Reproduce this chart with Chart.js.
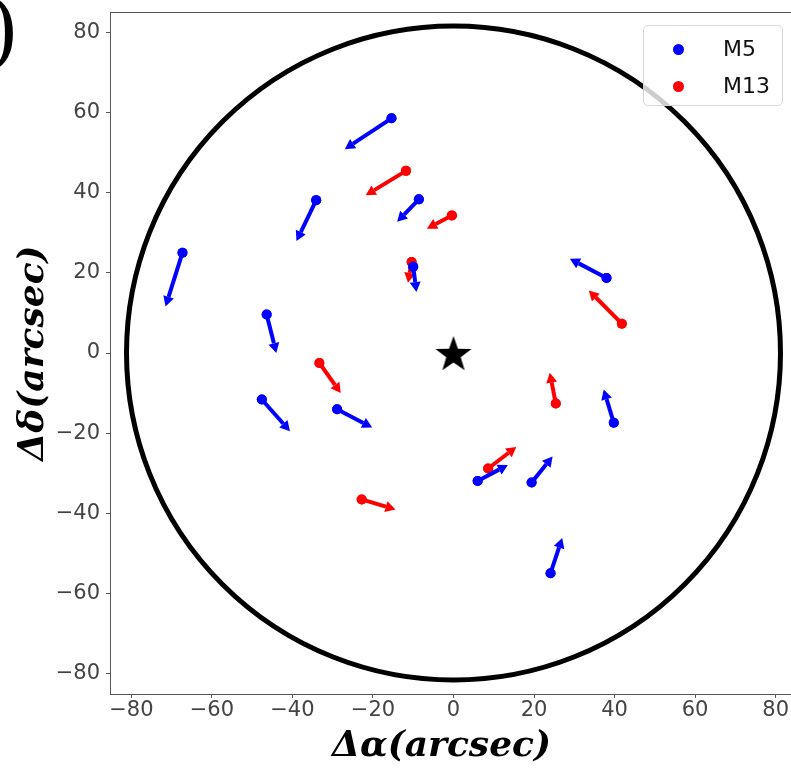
<!DOCTYPE html>
<html>
<head>
<meta charset="utf-8">
<title>M5 / M13 proper motions</title>
<script src="https://cdn.jsdelivr.net/npm/chart.js@4.4.1/dist/chart.umd.min.js"></script>
<style>
  html, body { margin: 0; padding: 0; background: #fff; overflow: hidden; }
  #wrap { position: relative; width: 800px; height: 768px; }
  #tag {
    position: absolute; left: -12px; top: -9px;
    font: 80px 'DejaVu Serif', serif; color: #000; line-height: 1;
  }
  #legend {
    position: absolute; left: 643px; top: 25px; width: 140px; height: 81px;
    box-sizing: border-box; border: 1px solid #d6d6d6; border-radius: 5px;
    background: rgba(255, 255, 255, 0.8);
    font: 22px 'DejaVu Sans', sans-serif; color: #111;
  }
  #legend .row { position: absolute; left: 0; height: 30px; line-height: 30px; }
  #legend .dot {
    position: absolute; left: 29px; top: 10px; width: 11px; height: 11px; border-radius: 50%;
  }
  #legend .txt { position: absolute; left: 79px; top: 0; white-space: nowrap; }
</style>
</head>
<body>
<div id="wrap">
  <canvas id="chart"></canvas>
  <div id="tag">)</div>
  <div id="legend"></div>
</div>
<script>
// stars: start position (arcsec) and motion vector to arrow tip
const m5X  = [-15.4, -34.1, -67.3, -46.4, -47.6, -28.9, -8.6, -10.0, 39.8, 38.0, 6.0, 19.4, 24.1];
const m5Y  = [58.5, 38.1, 25.0, 9.6, -11.6, -14.0, 38.3, 21.5, -17.4, 18.7, -31.9, -32.3, -54.9];
const m5DX = [-11.6, -4.9, -4.2, 2.4, 7.0, 8.7, -5.4, 0.8, -2.5, -9.1, 7.5, 5.2, 2.9];
const m5DY = [-7.7, -10.2, -13.4, -9.6, -7.9, -4.6, -5.6, -6.3, 8.3, 4.8, 4.0, 6.5, 8.8];

const m13X  = [-11.8, -0.4, -10.4, -33.3, -22.8, 25.4, 41.8, 8.6];
const m13Y  = [45.4, 34.3, 22.7, -2.5, -36.5, -12.6, 7.3, -28.8];
const m13DX = [-10.0, -6.2, -0.9, 5.3, 8.4, -1.5, -8.2, 7.0];
const m13DY = [-6.1, -3.3, -5.2, -7.5, -2.5, 7.7, 8.3, 5.4];

const center = [0, 0];
const ringRadius = 81.2;
const xTicks = [-80, -60, -40, -20, 0, 20, 40, 60, 80];
const yTicks = [-80, -60, -40, -20, 0, 20, 40, 60, 80];

const toPoints = (xs, ys) => xs.map((x, i) => ({ x, y: ys[i] }));
const minus = v => (v < 0 ? '\u2212' + Math.abs(v) : String(v));

// filled five point star used as the marker at the centre
function makeStar(r) {
  const c = document.createElement('canvas');
  c.width = c.height = Math.ceil(r * 2 + 2);
  const g = c.getContext('2d');
  const cx = c.width / 2, cy = c.height / 2 + r * 0.1;
  g.beginPath();
  for (let i = 0; i < 10; i++) {
    const rad = i % 2 === 0 ? r : r * 0.4;
    const a = -Math.PI / 2 + i * Math.PI / 5;
    const px = cx + rad * Math.cos(a), py = cy + rad * Math.sin(a);
    i === 0 ? g.moveTo(px, py) : g.lineTo(px, py);
  }
  g.closePath();
  g.fillStyle = '#000';
  g.fill();
  return c;
}

const ringPlugin = {
  id: 'ring',
  beforeDatasetsDraw(chart) {
    const { ctx, chartArea: a, scales: { x, y } } = chart;
    ctx.save();
    ctx.strokeStyle = '#555';
    ctx.lineWidth = 1;
    ctx.strokeRect(a.left + 0.5, a.top + 0.5, a.right - a.left, a.bottom - a.top);
    const cx = x.getPixelForValue(center[0]);
    const cy = y.getPixelForValue(center[1]);
    const r = x.getPixelForValue(ringRadius) - cx;
    ctx.beginPath();
    ctx.arc(cx, cy, r, 0, Math.PI * 2);
    ctx.strokeStyle = '#000';
    ctx.lineWidth = 5;
    ctx.stroke();
    ctx.restore();
  }
};

const arrowPlugin = {
  id: 'arrows',
  afterDatasetDraw(chart, args) {
    const ds = chart.data.datasets[args.index];
    if (!ds.vectors) return;
    const { ctx, scales: { x, y } } = chart;
    ctx.save();
    ctx.strokeStyle = ds.backgroundColor;
    ctx.fillStyle = ds.backgroundColor;
    ctx.lineWidth = 4;
    ds.data.forEach((p, i) => {
      const x0 = x.getPixelForValue(p.x), y0 = y.getPixelForValue(p.y);
      const x1 = x.getPixelForValue(p.x + ds.vectors.dx[i]);
      const y1 = y.getPixelForValue(p.y + ds.vectors.dy[i]);
      const ang = Math.atan2(y1 - y0, x1 - x0);
      const headLen = 10, headW = 5.5;
      const bx = x1 - headLen * Math.cos(ang), by = y1 - headLen * Math.sin(ang);
      ctx.beginPath();
      ctx.moveTo(x0, y0);
      ctx.lineTo(bx, by);
      ctx.stroke();
      ctx.beginPath();
      ctx.moveTo(x1, y1);
      ctx.lineTo(bx + headW * Math.sin(ang), by - headW * Math.cos(ang));
      ctx.lineTo(bx - headW * Math.sin(ang), by + headW * Math.cos(ang));
      ctx.closePath();
      ctx.fill();
      ctx.beginPath();
      ctx.arc(x0, y0, 5, 0, Math.PI * 2);
      ctx.fill();
    });
    ctx.restore();
  }
};

const tickFont = { family: "'DejaVu Sans', sans-serif", size: 21 };
const titleFont = { family: "'DejaVu Serif', serif", size: 36, weight: 'bold', style: 'italic' };

const datasets = [
  { label: 'M5', data: toPoints(m5X, m5Y), vectors: { dx: m5DX, dy: m5DY },
    backgroundColor: '#0000ff', pointRadius: 5, borderWidth: 0 },
  { label: 'M13', data: toPoints(m13X, m13Y), vectors: { dx: m13DX, dy: m13DY },
    backgroundColor: '#ff0000', pointRadius: 5, borderWidth: 0 },
  { label: 'centre', data: [{ x: center[0], y: center[1] }],
    pointStyle: makeStar(19), pointRadius: 19, backgroundColor: '#000' }
];

new Chart(document.getElementById('chart'), {
  type: 'scatter',
  data: { datasets },
  plugins: [ringPlugin, arrowPlugin],
  options: {
    responsive: true,
    maintainAspectRatio: false,
    animation: false,
    layout: { autoPadding: false, padding: { top: 12, right: 3, bottom: 0, left: 0 } },
    plugins: { legend: { display: false }, tooltip: { enabled: false } },
    scales: {
      x: {
        min: -85.3, max: 85.3,
        afterBuildTicks: s => { s.ticks = xTicks.map(v => ({ value: v })); },
        afterFit: s => { s.height = 74; s.paddingLeft = 0; s.paddingRight = 0; },
        grid: { display: true, drawOnChartArea: false, drawTicks: true, tickLength: 4, color: '#555' },
        border: { display: true, color: '#555' },
        ticks: { font: tickFont, color: '#444', padding: 0, maxRotation: 0, callback: minus },
        // trailing en space nudges the centred label a little to the left, as in the figure
        title: { display: true, text: '\u0394\u03b1(arcsec)\u2002\u2006', font: titleFont, color: '#000', padding: { top: 6, bottom: 0 } }
      },
      y: {
        min: -85, max: 85,
        afterBuildTicks: s => { s.ticks = yTicks.map(v => ({ value: v })); },
        afterFit: s => { s.width = 110; s.paddingTop = 0; s.paddingBottom = 0; },
        grid: { display: true, drawOnChartArea: false, drawTicks: true, tickLength: 4, color: '#555' },
        border: { display: true, color: '#555' },
        ticks: { font: tickFont, color: '#444', padding: 6, callback: minus },
        title: { display: true, text: '\u0394\u03b4(arcsec)', font: titleFont, color: '#000', padding: { top: 12, bottom: 0 } }
      }
    }
  }
});

// legend box in the upper right corner of the axes
const legend = document.getElementById('legend');
datasets.slice(0, 2).forEach((ds, i) => {
  const row = document.createElement('div');
  row.className = 'row';
  row.style.top = (8 + i * 37) + 'px';
  row.innerHTML = `<span class="dot" style="background:${ds.backgroundColor}"></span><span class="txt">${ds.label}</span>`;
  legend.appendChild(row);
});
</script>
</body>
</html>
